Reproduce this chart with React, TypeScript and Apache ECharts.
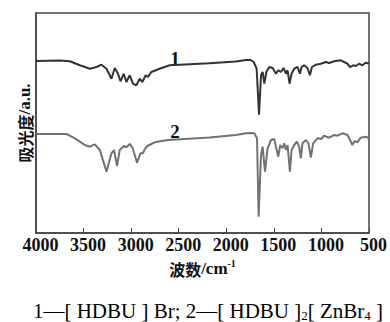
import React, { useEffect, useRef } from "react";
import * as echarts from "echarts";

const xTicks = ["4000", "3500", "3000", "2500", "2000", "1500", "1000", "500"];

const wave1 = [4000, 3749, 3644, 3539, 3434, 3364, 3312, 3259, 3207, 3172, 3138, 3112, 3078, 3050, 3015, 2980, 2945, 2910, 2882, 2847, 2823, 2788, 2701, 2596, 2177, 1900, 1792, 1745, 1712, 1681, 1656, 1635, 1618, 1600, 1579, 1548, 1513, 1478, 1454, 1425, 1398, 1373, 1356, 1335, 1314, 1286, 1251, 1226, 1209, 1181, 1147, 1121, 1100, 1058, 1006, 954, 919, 867, 797, 762, 727, 699, 665, 639, 605, 570, 535, 500];
const abs1 = [172, 172.5, 171.7, 167.7, 164.3, 166, 168.3, 164.3, 154.3, 165, 159.3, 151.7, 159.3, 151, 157.7, 149.3, 147.7, 154.3, 151, 157.7, 156, 161, 164.3, 167.7, 169.7, 171.5, 173, 173, 171, 164.3, 118.3, 157.7, 161, 149.3, 161, 166, 165, 159.3, 162.7, 161, 165, 159.3, 162.7, 149.3, 159.3, 164.3, 166, 159.3, 166, 167.7, 165, 157.7, 166, 168.3, 169.3, 171, 170, 171.7, 172.7, 171, 169.3, 166, 167.7, 167, 169.3, 167.7, 170.3, 169.5];

const wave2 = [4000, 3678, 3591, 3487, 3434, 3382, 3329, 3259, 3207, 3180, 3148, 3120, 3075, 3050, 3015, 2987, 2938, 2903, 2876, 2858, 2830, 2753, 2614, 2177, 1900, 1792, 1745, 1705, 1677, 1660, 1635, 1618, 1593, 1566, 1530, 1496, 1478, 1454, 1433, 1409, 1391, 1373, 1356, 1331, 1314, 1286, 1258, 1234, 1216, 1199, 1163, 1136, 1111, 1087, 1042, 1000, 972, 919, 867, 832, 780, 727, 699, 675, 651, 623, 587, 535, 500];
const abs2 = [99, 99, 94.7, 88, 86.3, 88.7, 83, 61.3, 79.7, 83, 67, 83, 87, 85.7, 89, 85.7, 70.3, 79.7, 79.7, 83.7, 87, 90.7, 93, 95.5, 98, 99.7, 100, 99.7, 94.7, 16.3, 78, 86.3, 61.3, 84.7, 93, 94, 86.3, 76.3, 88, 84.7, 89.7, 83, 88, 61.3, 83, 88, 91.3, 86.3, 74.7, 89.7, 93, 89.7, 75.3, 89.7, 94.7, 94, 97.3, 95.3, 98, 97.3, 99.7, 98, 93, 88, 92, 90.7, 95.3, 96.3, 94.7];

const seriesLabels = ["1", "2"];
const captionParts = ["1—[ HDBU ] Br; 2—[ HDBU ]", "2", "[ ZnBr", "4", " ]"];

export default function App() {
  const ref = useRef<HTMLDivElement>(null);
  useEffect(() => {
    if (!ref.current) return;
    const chart = echarts.init(ref.current, null, { renderer: "svg" });
    const serif = "Liberation Serif";
    chart.setOption({
      animation: false,
      backgroundColor: "#fff",
      grid: { left: 36, right: 20, top: 13, height: 220, show: true, borderColor: "#444", borderWidth: 1.5, backgroundColor: "transparent" },
      xAxis: {
        type: "value",
        min: 500,
        max: 4000,
        interval: 500,
        inverse: true,
        axisLine: { show: true, lineStyle: { color: "#444", width: 1.5 } },
        axisTick: { show: true, inside: true, length: 5, lineStyle: { color: "#444", width: 1 } },
        splitLine: { show: false },
        axisLabel: {
          margin: 3,
          formatter: (v: number) => "{t|" + (xTicks[Math.round((4000 - v) / 500)] ?? String(v)) + "}",
          rich: {
            t: { fontFamily: serif, fontWeight: "bold", fontSize: 18, color: "#111", padding: [0, 0, 0, 9] },
          },
        },
        name: "{a|波数}{b|/cm}{c|-1}",
        nameLocation: "middle",
        nameGap: 15,
        nameTextStyle: {
          rich: {
            a: { fontFamily: "Noto Sans CJK SC", fontSize: 16, color: "#111", fontWeight: "bold" },
            b: { fontFamily: serif, fontSize: 17, fontWeight: "bold", color: "#111" },
            c: { fontFamily: serif, fontSize: 10, fontWeight: "bold", color: "#111", verticalAlign: "top", padding: [0, 0, 10, 0] },
          },
        },
      },
      yAxis: {
        type: "value",
        min: 0,
        max: 220,
        axisLine: { show: true, lineStyle: { color: "#444", width: 1.5 } },
        axisTick: { show: false },
        axisLabel: { show: false },
        splitLine: { show: false },
        name: "{a|吸光度}{b|/a.u.}",
        nameLocation: "middle",
        nameGap: 3,
        nameRotate: 90,
        nameTextStyle: {
          rich: {
            a: { fontFamily: "Noto Sans CJK SC", fontSize: 16, color: "#111", fontWeight: "bold" },
            b: { fontFamily: serif, fontSize: 17, fontWeight: "bold", color: "#111" },
          },
        },
      },
      series: [
        {
          type: "line",
          name: seriesLabels[0],
          data: wave1.map((w, i) => [w, abs1[i]]),
          showSymbol: false,
          lineStyle: { color: "#333", width: 2 },
          z: 3,
        },
        {
          type: "line",
          name: seriesLabels[1],
          data: wave2.map((w, i) => [w, abs2[i]]),
          showSymbol: false,
          lineStyle: { color: "#727272", width: 2 },
          z: 2,
        },
      ],
      graphic: [
        { type: "text", x: 175, y: 58, style: { text: seriesLabels[0], font: `bold 19px ${serif}`, fill: "#111", align: "center", verticalAlign: "middle" } },
        { type: "text", x: 175, y: 131, style: { text: seriesLabels[1], font: `bold 19px ${serif}`, fill: "#111", align: "center", verticalAlign: "middle" } },
        {
          type: "text",
          x: 208,
          y: 311,
          style: {
            text: "{m|" + captionParts[0] + "}{s|" + captionParts[1] + "}{m|" + captionParts[2] + "}{s|" + captionParts[3] + "}{m|" + captionParts[4] + "}",
            align: "center",
            verticalAlign: "middle",
            rich: {
              m: { fontFamily: serif, fontSize: 21, color: "#111", lineHeight: 22 },
              s: { fontFamily: serif, fontSize: 13, color: "#111", verticalAlign: "bottom", lineHeight: 22, padding: [10, 0, 0, 0] },
            },
          },
        },
      ],
    });
    return () => chart.dispose();
  }, []);
  return <div ref={ref} style={{ width: 390, height: 322, position: "absolute", left: 0, top: 0 }} />;
}
